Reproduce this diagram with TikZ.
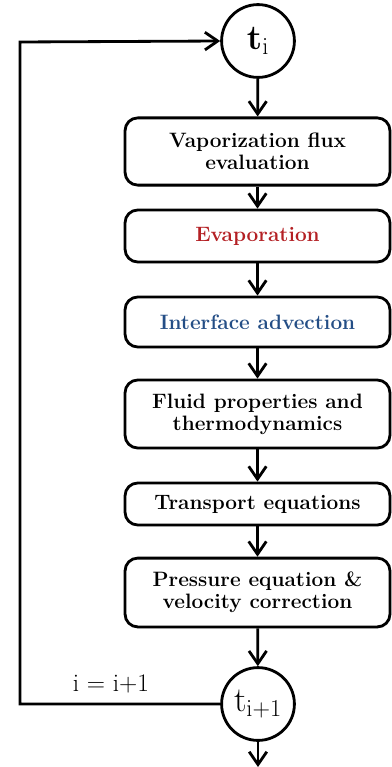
\documentclass[tikz,border=0pt]{standalone}
\usepackage{amsmath}
\usepackage{tikz}
\usetikzlibrary{positioning, arrows.meta, shadows}
\usepackage{xcolor}
\definecolor{evapRed}{RGB}{180,32,36}
\definecolor{advBlue}{RGB}{36,78,134}
\tikzstyle{stepBox}=[draw, rounded corners=9pt, line width=2pt, fill=white, minimum width=6.62cm, align=center, inner sep=2pt, font=\bfseries\fontsize{14.8}{15.5}\selectfont, drop shadow={opacity=0.25, shadow xshift=0.8pt, shadow yshift=-1pt}]
\tikzstyle{timeNode}=[draw, circle, line width=2pt, fill=white, minimum size=1.82cm, inner sep=0pt, font=\fontsize{23}{25}\selectfont]
\tikzstyle{flowArrow}=[-{Straight Barb[length=3.2mm, width=4.4mm, line width=2pt]}, line width=2pt]

\begin{document}
\begin{tikzpicture}[x=0.025cm, y=-0.025cm]
    \useasboundingbox (0,0) rectangle (391,767);

    \node[timeNode] (ti) at (258,41) {$\mathbf{t}_{\mathrm{i}}$};
    \node[stepBox, minimum height=1.68cm] (flux) at (257.5,151.5) {Vaporization flux\\evaluation};
    \node[stepBox, minimum height=1.3cm, text=evapRed] (evap) at (257.5,236) {Evaporation};
    \node[stepBox, minimum height=1.25cm, text=advBlue] (advec) at (257.5,322) {Interface advection};
    \node[stepBox, minimum height=1.7cm] (props) at (257.5,414) {Fluid properties and\\thermodynamics};
    \node[stepBox, minimum height=1.05cm] (transp) at (257.5,504) {Transport equations};
    \node[stepBox, minimum height=1.72cm] (press) at (257.5,592.5) {Pressure equation \&\\velocity correction};
    \node[timeNode] (tnext) at (258,704) {$\mathrm{t}_{\mathrm{i+1}}$};
    \node[font=\fontsize{18}{20}\selectfont] (incr) at (111,684) {i = i+1};

    \coordinate (loopTop) at (20,42);
    \coordinate (outEnd) at (258,767);

    \draw[flowArrow] (ti) -- (flux);
    \draw[flowArrow] (flux) -- (evap);
    \draw[flowArrow] (evap) -- (advec);
    \draw[flowArrow] (advec) -- (props);
    \draw[flowArrow] (props) -- (transp);
    \draw[flowArrow] (transp) -- (press);
    \draw[flowArrow] (press) -- (tnext);
    \draw[flowArrow] (tnext) -- (outEnd);
    \draw[flowArrow] (tnext.west) -| (loopTop) -- (ti.west);

  \end{tikzpicture}
\end{document}
